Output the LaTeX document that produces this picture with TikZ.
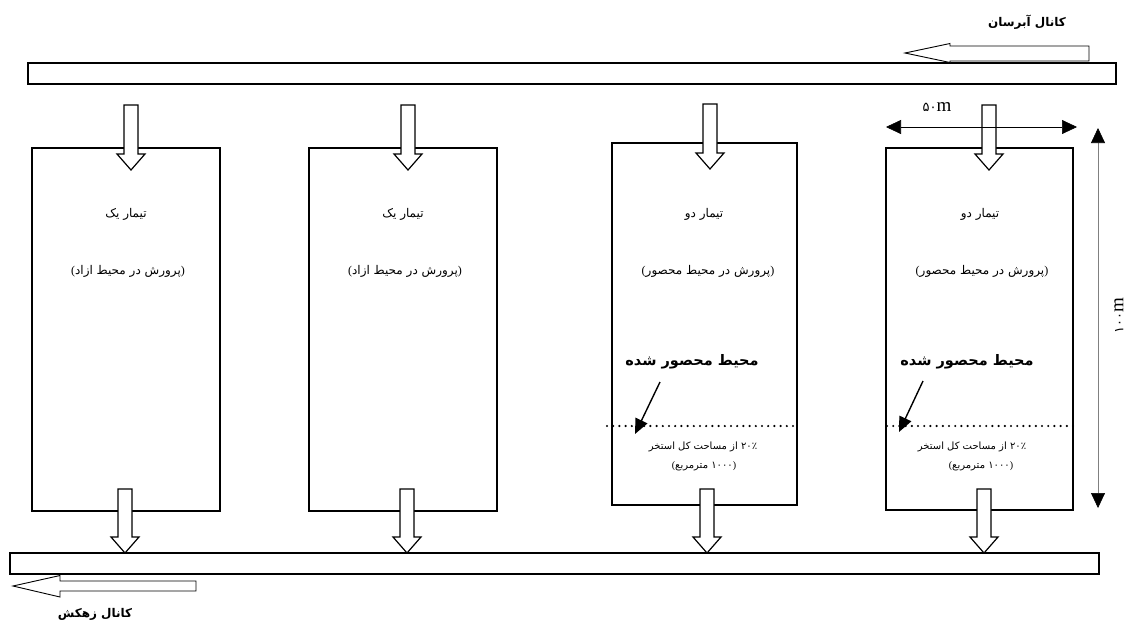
\documentclass[tikz,border=0pt]{standalone}
\usepackage{fontspec}
\setmainfont{Liberation Serif}
\newfontfamily\fa[Script=Arabic]{DejaVu Sans}
\TeXXeTstate=1
\newcommand\myLP{{\rmfamily(}}
\newcommand\myRP{{\rmfamily)}}
\usetikzlibrary{arrows.meta}
\tikzset{
  x=1pt, y=-1pt,
  pool/.style={draw, line width=1.3pt, minimum width=188pt, minimum height=363pt, inner sep=0pt},
  chan/.style={draw, line width=1.3pt, inner sep=0pt},
  pics/downblk/.style={code={\draw[line width=1.2pt, fill=white] (-7,0) -- (-7,#1-16) -- (-14,#1-16) -- (0,#1) -- (14,#1-16) -- (7,#1-16) -- (7,0) -- cycle;}},
  flowarrow/.style={draw, line width=0.9pt, fill=white},
  lbl/.style={font=\fa\fontsize{12}{14}\selectfont, inner sep=0pt},
  small/.style={font=\fa\fontsize{10}{12}\selectfont, inner sep=0pt},
  bold/.style={font=\fa\bfseries\fontsize{14.5}{17}\selectfont, inner sep=0pt},
  chanlbl/.style={font=\fa\bfseries\fontsize{12}{14}\selectfont, inner sep=0pt},
  dimlbl/.style={font=\fontsize{19}{21}\selectfont, inner sep=0pt},
  dimline/.style={line width=0.6pt, {Triangle[length=15pt,width=14pt,color=black]}-{Triangle[length=15pt,width=14pt,color=black]}},
  dots/.style={line width=2.4pt, line cap=round, dash pattern=on 0pt off 6.2pt},
  pointer/.style={line width=1.4pt, -{Triangle[length=15pt,width=13pt]}},
}
\begin{document}
\begin{tikzpicture}
\useasboundingbox (0,0) rectangle (1130,630);
% channels
\node[chan, minimum width=1088pt, minimum height=21pt] (topch) at (572,73.5) {};
\node[chan, minimum width=1089pt, minimum height=21pt] (botch) at (554.5,563.5) {};
% pools
\node[pool] (p1) at (126,329.5) {};
\node[pool] (p2) at (403,329.5) {};
\node[pool, minimum width=185pt, minimum height=362pt] (p3) at (704.5,324) {};
\node[pool, minimum width=187pt, minimum height=362pt] (p4) at (979.5,329) {};
% flow arrows of the channels
\draw[flowarrow] (905,53) -- (950,43.5) -- (950,46) -- (1089,46) -- (1089,61) -- (950,61) -- (950,62.5) -- cycle;
\draw[flowarrow] (13,586) -- (60,575.5) -- (60,581) -- (196,581) -- (196,591) -- (60,591) -- (60,597) -- cycle;
% inflow arrows
\pic at (131,105) {downblk=65};
\pic at (408,105) {downblk=65};
\pic at (710,104) {downblk=65};
\pic at (989,105) {downblk=65};
% outflow arrows
\pic at (125,489) {downblk=64};
\pic at (407,489) {downblk=64};
\pic at (707,489) {downblk=64};
\pic at (984,489) {downblk=64};
% dimensions
\coordinate (wl) at (886,127);
\coordinate (wr) at (1077,127);
\draw[dimline] (wl) -- (wr);
\node[dimlbl] (wlab) at (937,107) {{\fa\fontsize{13}{15}\selectfont ۵۰}m};
\coordinate (ht) at (1098,128);
\coordinate (hb) at (1098,508);
\draw[dimline, draw=gray] (ht) -- (hb);
\node[dimlbl, rotate=90] (hlab) at (1119,316) {{\fa\fontsize{13}{15}\selectfont ۱۰۰}m};
% channel labels
\node[chanlbl] (toplab) at (1027,22) {\beginR کانال آبرسان\endR};
\node[chanlbl] (botlab) at (95,614) {\beginR کانال زهکش\endR};
% pool texts
\node[lbl] (p1a) at (126,214) {\beginR تیمار یک\endR};
\node[lbl] (p1b) at (128,271) {\myLP\beginR پرورش در محیط ازاد\endR\myRP};
\node[lbl] (p2a) at (403,214) {\beginR تیمار یک\endR};
\node[lbl] (p2b) at (405,271) {\myLP\beginR پرورش در محیط ازاد\endR\myRP};
\node[lbl] (p3a) at (704,214) {\beginR تیمار دو\endR};
\node[lbl] (p3b) at (708,271) {\myLP\beginR پرورش در محیط محصور\endR\myRP};
\node[lbl] (p4a) at (980,214) {\beginR تیمار دو\endR};
\node[lbl] (p4b) at (982,271) {\myLP\beginR پرورش در محیط محصور\endR\myRP};
% confined zone
\node[bold] (c3) at (692,362) {\beginR محیط محصور شده\endR};
\node[bold] (c4) at (967,362) {\beginR محیط محصور شده\endR};
\coordinate (d3l) at (607,426);
\coordinate (d3r) at (797,426);
\coordinate (d4l) at (887,426);
\coordinate (d4r) at (1073,426);
\draw[dots] (d3l) -- (d3r);
\draw[dots] (d4l) -- (d4r);
\coordinate (a3s) at (660,382);
\coordinate (a3t) at (635,434);
\coordinate (a4s) at (923,381);
\coordinate (a4t) at (899,432);
\draw[pointer] (a3s) -- (a3t);
\draw[pointer] (a4s) -- (a4t);
\node[small] (s3a) at (703,447) {\beginR\beginL ۲۰٪\endL{} از مساحت کل استخر\endR};
\node[small] (s3b) at (704,466) {\myLP\beginR ۱۰۰۰ مترمربع\endR\myRP};
\node[small] (s4a) at (972,447) {\beginR\beginL ۲۰٪\endL{} از مساحت کل استخر\endR};
\node[small] (s4b) at (981,466) {\myLP\beginR ۱۰۰۰ مترمربع\endR\myRP};
\end{tikzpicture}
\end{document}
